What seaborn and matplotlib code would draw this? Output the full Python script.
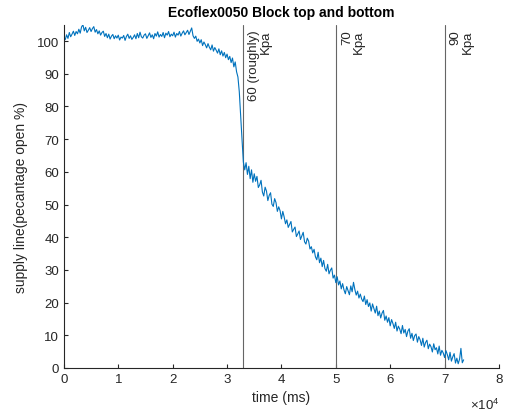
import numpy as np
import pandas as pd
import matplotlib
matplotlib.use("Agg")
import matplotlib.pyplot as plt
import matplotlib.transforms as mtransforms
from matplotlib.ticker import FuncFormatter
import seaborn as sns

time_step_ms = 250
supply_pct = [
    # 0 - 4750
    101.2, 100.4, 101.9, 100.8, 102.6, 101.3, 102.1, 103.0, 101.7, 102.9,
    102.2, 103.6, 102.4, 104.3, 105.0, 103.1, 104.2, 102.6, 103.3, 104.1,
    # 5000 - 9750
    102.9, 103.8, 104.4, 102.7, 103.5, 102.2, 103.1, 101.8, 102.6, 103.0,
    101.4, 102.3, 101.0, 102.1, 100.6, 101.5, 102.0, 100.7, 101.6, 100.9,
    # 10000 - 14750
    101.8, 100.3, 101.2, 100.9, 101.7, 100.2, 101.4, 102.1, 100.8, 101.6,
    100.5, 101.1, 101.9, 100.7, 102.3, 101.0, 102.7, 101.3, 100.9, 101.8,
    # 15000 - 19750
    102.2, 100.8, 101.6, 102.5, 101.1, 101.9, 100.7, 102.3, 101.5, 102.8,
    101.2, 102.0, 101.4, 102.6, 101.0, 102.4, 101.8, 102.9, 101.3, 102.1,
    # 20000 - 24750
    101.6, 102.7, 101.2, 102.3, 101.8, 102.9, 101.5, 102.4, 103.1, 101.9,
    102.6, 103.3, 102.0, 103.0, 104.0, 101.6, 100.8, 101.5, 99.9, 100.6,
    # 25000 - 29750
    99.4, 100.4, 98.6, 99.7, 98.9, 97.9, 99.2, 98.1, 97.3, 98.8,
    96.9, 98.0, 97.2, 96.3, 97.6, 95.8, 97.0, 95.4, 96.5, 94.9,
    # 30000 - 34750
    96.0, 94.3, 95.3, 93.4, 94.8, 92.1, 93.6, 90.6, 89.0, 84.5,
    77.0, 70.0, 63.0, 60.6, 62.8, 59.2, 61.7, 57.9, 60.6, 56.8,
    # 35000 - 39750
    59.4, 57.1, 58.6, 55.2, 56.0, 57.4, 53.8, 52.6, 55.3, 54.1,
    51.2, 52.8, 53.6, 50.1, 49.4, 51.8, 50.6, 47.9, 49.3, 48.1,
    # 40000 - 44750
    45.6, 47.9, 46.2, 44.1, 45.3, 43.0, 43.9, 44.8, 41.6, 42.4,
    43.1, 40.2, 41.0, 41.9, 39.3, 40.4, 41.5, 38.6, 37.9, 39.7,
    # 45000 - 49750
    38.8, 36.4, 37.1, 35.2, 36.3, 34.0, 33.1, 35.4, 32.2, 33.6,
    31.0, 32.9, 30.4, 29.6, 31.7, 28.8, 29.9, 30.6, 27.5, 28.4,
    # 50000 - 54750
    26.1, 27.9, 25.4, 26.6, 24.2, 25.8, 23.9, 22.7, 24.9, 23.6,
    22.4, 25.1, 23.3, 26.2, 24.0, 22.3, 23.5, 21.4, 22.6, 21.1,
    # 55000 - 59750
    20.3, 22.0, 19.4, 20.9, 18.8, 19.9, 17.4, 19.6, 18.2, 16.8,
    18.9, 16.0, 17.4, 15.3, 16.8, 17.6, 14.6, 15.9, 14.0, 15.4,
    # 60000 - 64750
    12.9, 14.8, 13.6, 12.1, 14.0, 11.3, 12.8, 11.9, 10.5, 13.0,
    10.7, 11.8, 9.6, 11.3, 12.0, 9.1, 10.6, 8.4, 9.9, 10.4,
    # 65000 - 69750
    7.9, 9.6, 8.6, 6.9, 9.1, 6.4, 7.8, 8.5, 5.9, 7.3,
    6.5, 4.9, 7.4, 5.6, 6.2, 4.3, 6.7, 3.9, 5.4, 4.6,
    # 70000 - 73500
    3.2, 5.3, 4.1, 2.5, 4.8, 2.1, 3.4, 4.4, 1.5, 3.0,
    1.3, 2.7, 6.0, 1.6, 2.5,
]
time_ms = [i * time_step_ms for i in range(len(supply_pct))]

marker_times = [33000, 50000, 70000]
marker_labels = ["60 (roughly)\nKpa", "70\nKpa", "90\nKpa"]

x_ticks = [0, 10000, 20000, 30000, 40000, 50000, 60000, 70000, 80000]
x_scale = 10000
y_ticks = [0, 10, 20, 30, 40, 50, 60, 70, 80, 90, 100]

title = "Ecoflex0050 Block top and bottom"
x_label = "time (ms)"
y_label = "supply line(pecantage open %)"
x_multiplier = r"$\times\mathregular{10^{4}}$"

# ---- styling ----
sns.set_style("white")
plt.rcParams["font.family"] = ["Liberation Sans", "DejaVu Sans"]
plt.rcParams["mathtext.fontset"] = "custom"
plt.rcParams["mathtext.rm"] = "Liberation Sans"
plt.rcParams["mathtext.it"] = "Liberation Sans:italic"
axis_color = "#262626"

fig = plt.figure(figsize=(5.11, 4.14), dpi=100)
ax = fig.add_axes([0.125, 0.1087, 0.8515, 0.8293])

df = pd.DataFrame({"time": time_ms, "supply": supply_pct})
sns.lineplot(data=df, x="time", y="supply", ax=ax, color="#0072BD", linewidth=0.8)

for t, lab in zip(marker_times, marker_labels):
    ax.axvline(t, color="#666666", linewidth=0.8, zorder=1)
    trans = mtransforms.offset_copy(
        mtransforms.blended_transform_factory(ax.transData, ax.transAxes),
        fig=fig, x=5, y=-5, units="dots")
    ax.text(t, 1.0, lab, transform=trans, rotation=90, ha="left", va="top",
            multialignment="right", fontsize=9.5, color=axis_color,
            linespacing=1.0)

ax.set_xlim(0, 80000)
ax.set_ylim(0, 105)
ax.set_xticks(x_ticks)
ax.set_yticks(y_ticks)
ax.xaxis.set_major_formatter(FuncFormatter(lambda v, p: f"{v / x_scale:g}"))

ax.set_title(title, fontsize=10, fontweight="bold", color="black", pad=6)
ax.set_xlabel(x_label, fontsize=10, color=axis_color, labelpad=4)
ax.set_ylabel(y_label, fontsize=10, color=axis_color, labelpad=6)

mult_trans = mtransforms.offset_copy(ax.transAxes, fig=fig, x=0, y=-29, units="dots")
ax.text(1.0, 0.0, x_multiplier, transform=mult_trans, ha="right", va="top",
        fontsize=9.5, color=axis_color)

for side in ["top", "right"]:
    ax.spines[side].set_visible(False)
for side in ["left", "bottom"]:
    ax.spines[side].set_color(axis_color)
    ax.spines[side].set_linewidth(0.8)
ax.tick_params(axis="both", direction="in", length=3, width=0.8,
               colors=axis_color, labelsize=9.5, left=True, bottom=True)

fig.savefig("out.png", dpi=100)
